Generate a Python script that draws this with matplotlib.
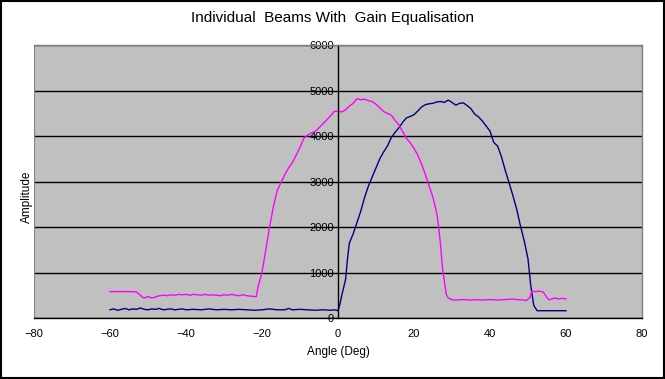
import matplotlib
matplotlib.use("Agg")
import matplotlib.pyplot as plt
from matplotlib.patches import Rectangle

plt.rcParams["font.family"] = ["Liberation Sans", "DejaVu Sans"]

# ── data ──────────────────────────────────────────────────────────────────
beam1_angle = [-60, -58, -56, -54, -53, -52, -51.5, -51, -50, -49, -48, -47, -46,
               -45, -44, -43, -42, -41, -40, -39, -38, -37, -36, -35, -34, -33,
               -32, -31, -30, -29, -28, -27, -26, -25, -24, -23, -22, -21.5, -21,
               -20, -19, -18, -17, -16, -15, -14, -13, -12, -11, -10, -9, -8, -7,
               -6, -5, -4, -3, -2, -1, 0, 1, 2, 3, 4, 5, 6, 7, 8, 9, 10, 11, 12,
               13, 14, 15, 16, 17, 18, 19, 20, 21, 22, 23, 24, 25, 26, 26.5, 27,
               27.5, 28, 28.5, 29, 30, 31, 32, 33, 34, 35, 36, 37, 38, 39, 40, 41,
               42, 43, 44, 45, 46, 47, 48, 49, 49.5, 50.5, 51, 52, 53, 54, 55,
               55.5, 56, 57, 58, 59, 60]
beam1_amp = [580, 580, 580, 580, 570, 500, 460, 440, 470, 440, 460, 490, 500,
             490, 510, 500, 520, 510, 520, 500, 520, 510, 500, 520, 500, 510,
             500, 490, 510, 500, 520, 500, 490, 510, 490, 480, 470, 470, 700,
             1000, 1500, 2000, 2450, 2800, 2980, 3150, 3300, 3420, 3580, 3750,
             3950, 4020, 4070, 4100, 4180, 4270, 4350, 4440, 4540, 4550, 4530,
             4580, 4660, 4720, 4820, 4800, 4810, 4780, 4760, 4700, 4620, 4540,
             4500, 4460, 4350, 4250, 4100, 3950, 3850, 3730, 3580, 3380, 3150,
             2900, 2650, 2300, 2000, 1600, 1100, 800, 520, 440, 400, 395, 400,
             405, 400, 395, 400, 400, 395, 400, 405, 400, 395, 400, 405, 410,
             415, 405, 400, 395, 380, 450, 590, 580, 590, 570, 450, 400, 410,
             440, 420, 430, 420]

beam2_angle = [-60, -59, -58, -57, -56, -55, -54, -53, -52, -51, -50, -49, -48,
               -47, -46, -45, -44, -43, -42, -41, -40, -38, -36, -34, -32, -30,
               -28, -26, -24, -22, -20, -18, -16, -14, -13, -12, -10, -8, -6, -4,
               -2, -1, 0, 0.5, 1, 2, 2.5, 3, 4, 5, 6, 7, 8, 9, 10, 11, 12, 13, 14,
               15, 16, 17, 18, 19, 20, 21, 22, 23, 24, 25, 26, 27, 28, 29, 30, 31,
               32, 33, 34, 35, 36, 37, 38, 39, 40, 41, 42, 43, 44, 45, 46, 47, 48,
               49, 50, 50.7, 51.5, 52.4, 60]
beam2_amp = [180, 200, 170, 190, 210, 180, 200, 190, 220, 190, 180, 200, 190,
             210, 180, 190, 200, 180, 190, 200, 180, 190, 180, 200, 180, 190,
             180, 190, 180, 170, 180, 200, 180, 180, 210, 180, 190, 180, 170, 180,
             170, 180, 160, 300, 500, 850, 1300, 1650, 1850, 2100, 2350, 2650,
             2900, 3100, 3300, 3500, 3650, 3780, 3960, 4080, 4180, 4300, 4400,
             4430, 4470, 4550, 4640, 4690, 4710, 4720, 4750, 4760, 4740, 4790,
             4740, 4680, 4720, 4730, 4670, 4600, 4480, 4420, 4330, 4220, 4110,
             3860, 3780, 3550, 3250, 2980, 2700, 2400, 2030, 1700, 1300, 730,
             280, 160, 160]

x_ticks = [-80, -60, -40, -20, 0, 20, 40, 60, 80]
y_ticks = [0, 1000, 2000, 3000, 4000, 5000, 6000]

# ── figure ────────────────────────────────────────────────────────────────
fig = plt.figure(figsize=(6.65, 3.79), dpi=100)
fig.patches.append(Rectangle((0.001, 0.002), 0.997, 0.995, transform=fig.transFigure,
                             fill=False, edgecolor="black", linewidth=1.5))
ax = fig.add_axes([0.0511, 0.161, 0.9143, 0.720])
ax.set_facecolor("#C0C0C0")

ax.plot(beam2_angle, beam2_amp, color="#000080", linewidth=1)
ax.plot(beam1_angle, beam1_amp, color="#FF00FF", linewidth=1)

ax.set_xlim(-80, 80)
ax.set_ylim(0, 6000)
ax.set_xticks(x_ticks)
ax.set_yticks(y_ticks)
ax.yaxis.grid(True, color="black", linewidth=1)
ax.set_axisbelow(True)

for s in ["top", "right", "bottom"]:
    ax.spines[s].set_color("#808080")
    ax.spines[s].set_linewidth(1)
ax.spines["bottom"].set_color("black")
ax.spines["left"].set_position(("data", 0))
ax.spines["left"].set_color("black")
ax.spines["left"].set_linewidth(1)
# plot-area left border
ax.axvline(-80, color="#808080", linewidth=1.5)

ax.tick_params(axis="both", labelsize=8, length=0)
ax.tick_params(axis="y", pad=3)
ax.tick_params(axis="x", pad=8)

ax.set_xlabel("Angle (Deg)", fontsize=8.5, labelpad=5)
fig.text(0.041, 0.48, "Amplitude", rotation=90, fontsize=8.5,
         ha="center", va="center")
fig.text(0.5, 0.953, "Individual  Beams With  Gain Equalisation", fontsize=11,
         ha="center", va="center")

fig.savefig("out.png", dpi=100)
